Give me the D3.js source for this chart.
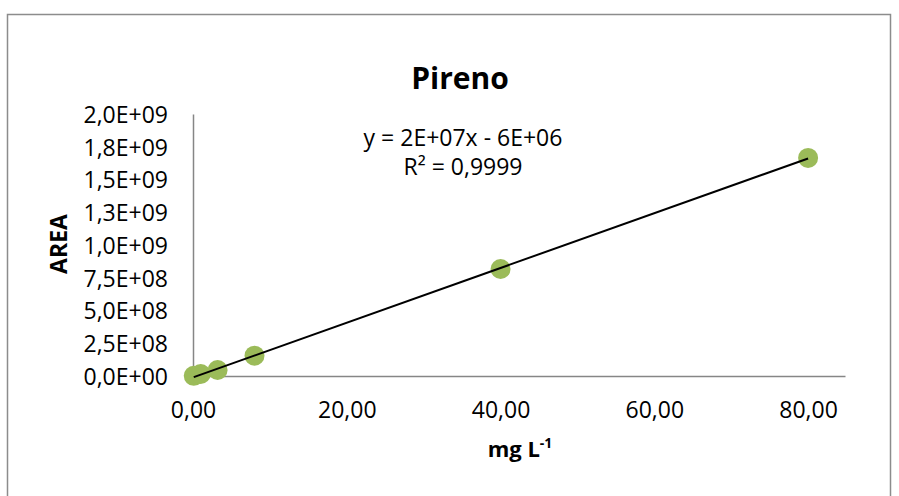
<!DOCTYPE html>
<html>
<head>
<meta charset="utf-8">
<script src="https://cdn.jsdelivr.net/npm/d3@7"></script>
<style>
  body { margin: 0; background: #fff; }
  svg { display: block; font-family: "Open Sans", sans-serif; }
</style>
</head>
<body>
<svg id="chart" width="899" height="496"></svg>
<script>
// concentrations (mg L-1) and peak areas
const concentrations = [0.1, 1.0, 3.2, 8.0, 40.0, 80.0];
const areas = [1.0e6, 1.5e7, 4.6e7, 1.55e8, 8.17e8, 1.665e9];
const xTicks = [0, 20, 40, 60, 80];
const yTicks = [0, 2.5e8, 5e8, 7.5e8, 1e9, 1.25e9, 1.5e9, 1.75e9, 2e9];
const equationLines = ['y = 2E+07x - 6E+06', 'R² = 0,9999'];

const svg = d3.select('#chart');

// outer chart border
svg.append('rect')
  .attr('x', 7.5).attr('y', 14.5)
  .attr('width', 883).attr('height', 500)
  .attr('fill', 'none')
  .attr('stroke', '#8c8c8c')
  .attr('stroke-width', 1.5);

const x = d3.scaleLinear().domain([0, 84.8]).range([193, 845]);
const y = d3.scaleLinear().domain([0, 2e9]).range([376, 114]);

const ptBr = d3.formatLocale({ decimal: ',', thousands: '.', grouping: [3], currency: ['', ''] });
const fmtX = ptBr.format('.2f');
const fmtY = v => {
  let [m, e] = v.toExponential(1).split('e');
  let sign = e[0] === '-' ? '-' : '+';
  let digits = e.replace(/[+-]/, '').padStart(2, '0');
  return m.replace('.', ',') + 'E' + sign + digits;
};

// axes
let gx = svg.append('g')
  .attr('transform', 'translate(0,' + y(0) + ')')
  .call(d3.axisBottom(x).tickValues(xTicks).tickFormat(fmtX).tickSize(0).tickPadding(26));
let gy = svg.append('g')
  .attr('transform', 'translate(' + x(0) + ',0)')
  .call(d3.axisLeft(y).tickValues(yTicks).tickFormat(fmtY).tickSize(0).tickPadding(25));

[gx, gy].forEach(g => {
  g.select('.domain').attr('stroke', '#868686').attr('stroke-width', 1.5);
  g.selectAll('text')
    .attr('font-family', '"Open Sans", sans-serif')
    .attr('font-size', 23)
    .attr('fill', '#000');
});
gy.selectAll('text').attr('dy', '0.36em');

// points
svg.append('g')
  .selectAll('circle')
  .data(concentrations.map((c, i) => [c, areas[i]]))
  .join('circle')
  .attr('cx', d => x(d[0]))
  .attr('cy', d => y(d[1]))
  .attr('r', 10)
  .attr('fill', '#9bbb59');

// linear trendline (least squares over the points)
const mx = d3.mean(concentrations);
const my = d3.mean(areas);
const slope = d3.sum(concentrations, (c, i) => (c - mx) * (areas[i] - my)) /
  d3.sum(concentrations, c => (c - mx) * (c - mx));
const intercept = my - slope * mx;
const xExt = d3.extent(concentrations);
svg.append('line')
  .attr('x1', x(xExt[0])).attr('y1', y(slope * xExt[0] + intercept))
  .attr('x2', x(xExt[1])).attr('y2', y(slope * xExt[1] + intercept))
  .attr('stroke', '#000')
  .attr('stroke-width', 2);

// titles
svg.append('text')
  .attr('x', 460).attr('y', 89)
  .attr('text-anchor', 'middle')
  .attr('font-size', 30)
  .attr('font-weight', 'bold')
  .text('Pireno');

svg.append('g')
  .selectAll('text')
  .data(equationLines)
  .join('text')
  .attr('x', 463)
  .attr('y', (d, i) => 146 + i * 29)
  .attr('text-anchor', 'middle')
  .attr('font-size', 23)
  .text(d => d);

svg.append('text')
  .attr('transform', 'translate(67,244) rotate(-90)')
  .attr('text-anchor', 'middle')
  .attr('font-size', 23)
  .attr('font-weight', 'bold')
  .text('AREA');

let xt = svg.append('text')
  .attr('x', 520).attr('y', 457)
  .attr('text-anchor', 'middle')
  .attr('font-size', 22)
  .attr('font-weight', 'bold');
xt.append('tspan').text('mg L');
xt.append('tspan').attr('dy', -9).attr('font-size', 14).text('-1');
</script>
</body>
</html>
